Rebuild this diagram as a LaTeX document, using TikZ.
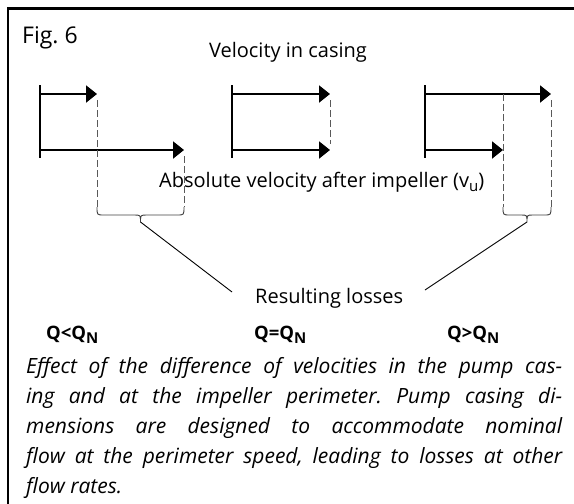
\documentclass[tikz,border=0pt]{standalone}
\usepackage{fontspec}
\setmainfont{Open Sans}
\usetikzlibrary{arrows.meta}
\frenchspacing
\newcommand\lowsub[1]{\raisebox{-0.45ex}{\fontsize{15}{15}\selectfont #1}}
\tikzset{
	vel/.style={line width=2pt,-{Triangle[length=11pt,width=17pt]}},
	stem/.style={line width=2pt},
	proj/.style={line width=0.9pt,dash pattern=on 7pt off 3pt,black!65},
	brace/.style={line width=0.9pt,black!75},
	lbl/.style={inner sep=0pt,font=\fontsize{20}{20}\selectfont},
	qlbl/.style={inner sep=0pt,font=\fontsize{18.5}{18.5}\selectfont\bfseries},
}
\begin{document}
\begin{tikzpicture}[x=1pt,y=-1pt]
	\useasboundingbox (0,0) rectangle (574,504);
	\draw[line width=2.5pt] (8,504) -- (8,8.5) -- (574,8.5);
	\node[lbl,anchor=base west,font=\fontsize{23}{23}\selectfont] (fig) at (22,43) {Fig. 6};
	\node[lbl,anchor=base] (casing) at (288,57) {Velocity in casing};
	% Q < Q_N
	\draw[stem] (40,85) -- (40,158);
	\draw[vel] (40,94) -- (97,94);
	\draw[vel] (40,150) -- (184,150);
	\draw[proj] (97,100) -- (97,207);
	\draw[proj] (184,156) -- (184,207);
	\draw[brace] (97,207) .. controls (97,215) .. (104,215) -- (134,215)
		.. controls (140.5,215) .. (140.5,222) .. controls (140.5,215) .. (147,215)
		-- (177,215) .. controls (184,215) .. (184,207);
	% Q = Q_N
	\draw[stem] (232,85) -- (232,158);
	\draw[vel] (232,94) -- (330,94);
	\draw[vel] (232,150) -- (330,150);
	\draw[proj] (330,100) -- (330,144);
	% Q > Q_N
	\draw[stem] (425,85) -- (425,158);
	\draw[vel] (425,94) -- (551,94);
	\draw[vel] (425,150) -- (503,150);
	\draw[proj] (503,94) -- (503,207);
	\draw[proj] (551,100) -- (551,207);
	\draw[brace] (503,207) .. controls (503,215) .. (510,215) -- (521,215)
		.. controls (527,215) .. (527,222) .. controls (527,215) .. (533,215)
		-- (544,215) .. controls (551,215) .. (551,207);
	\node[lbl,anchor=base west] (absvel) at (159,187) {Absolute velocity after impeller (v\lowsub{u})};
	\node[lbl,anchor=base west] (loss) at (255,303) {Resulting losses};
	\coordinate (cuspL) at (140.5,222);
	\coordinate (cuspR) at (527,222);
	\coordinate (lossL) at (232,292);
	\coordinate (lossR) at (425,290);
	\draw[brace,black] (cuspL) -- (lossL);
	\draw[brace,black] (cuspR) -- (lossR);
	\node[qlbl,anchor=base west] (qlow) at (46,339) {Q<Q\lowsub{N}};
	\node[qlbl,anchor=base west] (qnom) at (254,339) {Q=Q\lowsub{N}};
	\node[qlbl,anchor=base west] (qhigh) at (447,339) {Q>Q\lowsub{N}};
	\node[inner sep=0pt,anchor=base west,text width=536pt,align=justify,
		font=\fontsize{21}{30}\selectfont\itshape] (caption) at (26,373)
		{Effect of the difference of velocities in the pump cas-\linebreak
		ing and at the impeller perimeter. Pump casing di-\linebreak
		mensions are designed to accommodate nominal\linebreak
		flow at the perimeter speed, leading to losses at other\linebreak
		flow rates.};
\end{tikzpicture}
\end{document}
